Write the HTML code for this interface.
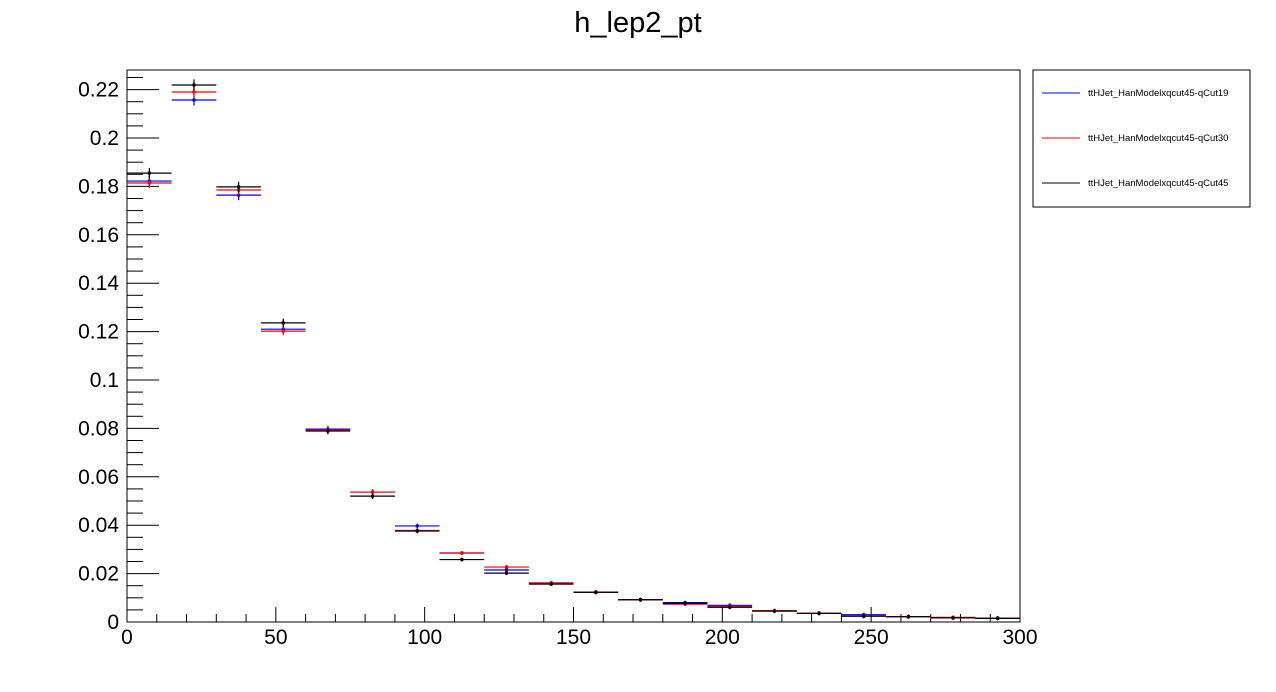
<!DOCTYPE html>
<html><head><meta charset="utf-8"><style>
body{margin:0;background:#fff;}
svg{display:block;font-family:"Liberation Sans",sans-serif;}
</style></head><body>
<svg id="c" width="1276" height="692">
<text x="638" y="32" text-anchor="middle" font-size="29">h_lep2_pt</text>
<rect x="127" y="70" width="893" height="552" fill="none" stroke="#000" stroke-width="1"/>
<g id="axes"></g>
<g id="marks"></g>
<g>
<rect x="1033" y="70" width="217" height="137" fill="#fff" stroke="#000"/>
<g><line x1="1042" x2="1080" y1="93" y2="93" stroke="#00f"/><text x="1088" y="96" font-size="9.5">ttHJet_HanModelxqcut45-qCut19</text></g>
<g><line x1="1042" x2="1080" y1="138" y2="138" stroke="#f00"/><text x="1088" y="141" font-size="9.5">ttHJet_HanModelxqcut45-qCut30</text></g>
<g><line x1="1042" x2="1080" y1="183" y2="183" stroke="#000"/><text x="1088" y="186" font-size="9.5">ttHJet_HanModelxqcut45-qCut45</text></g>
</g>
</svg>
<script>
const binEdges=[0,15,30,45,60,75,90,105,120,135,150,165,180,195,210,225,240,255,270,285,300];
const xTicks=[0,50,100,150,200,250,300];
const yTicks=[0,0.02,0.04,0.06,0.08,0.1,0.12,0.14,0.16,0.18,0.2,0.22];
const yTickLabels=["0","0.02","0.04","0.06","0.08","0.1","0.12","0.14","0.16","0.18","0.2","0.22"];
const qcut19=[0.1822,0.2157,0.1764,0.1210,0.0797,0.0537,0.0397,0.0285,0.0215,0.0157,0.0123,0.0092,0.0080,0.0069,0.0046,0.0036,0.0030,0.0022,0.0018,0.0016];
const qcut30=[0.1814,0.2190,0.1785,0.1202,0.0793,0.0537,0.0378,0.0285,0.0227,0.0162,0.0123,0.0092,0.0074,0.0065,0.0047,0.0036,0.0024,0.0022,0.0019,0.0016];
const qcut45=[0.1855,0.2219,0.1798,0.1236,0.0789,0.0520,0.0376,0.0258,0.0202,0.0157,0.0123,0.0092,0.0077,0.0061,0.0045,0.0036,0.0024,0.0022,0.0017,0.0015];
const X0=127,X1=1020,Y0=622,YMAX=0.2281;
const xs=v=>X0+(v-0)/(300-0)*(X1-X0);
const ys=v=>Y0-v/YMAX*(Y0-70);
const NS="http://www.w3.org/2000/svg";
function mk(tag,attrs,parent){const e=document.createElementNS(NS,tag);for(const k in attrs)e.setAttribute(k,attrs[k]);parent.appendChild(e);return e;}
const ax=document.getElementById('axes');
for(let v=0;v<=300;v+=10){const major=v%50===0;const t=mk('line',{x1:xs(v),x2:xs(v),y1:Y0,y2:Y0-(major?15:8),stroke:'#000'},ax);

}
xTicks.forEach(v=>{const t=mk('text',{x:xs(v),y:644,'text-anchor':'middle','font-size':21},ax);t.textContent=v;

});
for(let i=0;i<=45;i++){const v=i*0.005;if(ys(v)<70)break;const major=i%4===0;const t=mk('line',{x1:X0,x2:X0+(major?32:16),y1:ys(v),y2:ys(v),stroke:'#000'},ax);

}
yTicks.forEach((v,i)=>{const t=mk('text',{x:119,y:ys(v)+7,'text-anchor':'end','font-size':21},ax);t.textContent=yTickLabels[i];

});
const mg=document.getElementById('marks');
[[qcut19,'#00f','qcut19'],[qcut30,'#f00','qcut30'],[qcut45,'#000','qcut45']].forEach(([arr,col,nm])=>{
 arr.forEach((v,i)=>{const g=mk('g',{},mg);
 
 
 const xa=xs(binEdges[i]),xb=xs(binEdges[i+1]),xm=(xa+xb)/2,y=ys(v);
 const err=Math.max(2,Math.sqrt(v)*12);
 mk('line',{x1:xa,x2:xb,y1:y,y2:y,stroke:col,'stroke-width':1.2},g);
 mk('line',{x1:xm,x2:xm,y1:y-err,y2:y+err,stroke:col,'stroke-width':1.2},g);
 mk('rect',{x:xm-1.5,y:y-1.5,width:3,height:3,fill:col},g);});
});
</script>
</body></html>
